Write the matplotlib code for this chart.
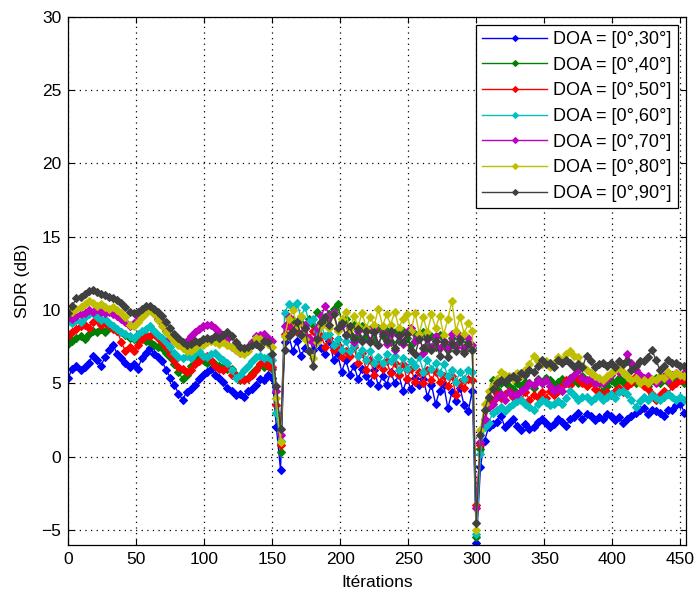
import numpy as np
import matplotlib.pyplot as plt

plt.rcParams['font.family'] = ['Liberation Sans', 'DejaVu Sans']

# SDR per iteration, sampled every 3 iterations (0 .. 453)
iterations = np.arange(0, 454, 3)

sdr_30 = [5.4, 6.0, 6.2, 5.9, 6.1, 6.4, 6.9, 6.6, 6.2, 6.8,
          7.3, 7.6, 7.0, 6.7, 6.4, 6.1, 6.3, 6.0, 6.7, 7.1,
          7.4, 7.0, 6.8, 6.5, 5.9, 5.4, 4.9, 4.3, 3.9, 4.4,
          4.6, 4.9, 5.3, 5.6, 5.8, 6.0, 5.6, 5.4, 5.1, 4.7,
          4.5, 4.2, 4.3, 4.1, 4.5, 4.6, 4.9, 5.3, 5.2, 5.6,
          5.4,
          2.0, -0.9,
          7.8, 8.3, 7.2, 7.9, 6.9, 7.4, 8.1, 7.3, 8.0, 7.4,
          7.0, 7.9, 6.6, 7.0, 5.8, 6.6, 5.6, 6.2, 5.3, 6.0,
          5.5, 5.0, 5.9, 4.8, 5.5, 4.9, 5.8, 5.0, 5.6, 4.5,
          5.3, 4.6, 5.4, 4.9, 5.3, 4.1, 4.9, 3.6, 4.5, 4.9,
          3.3, 4.4, 3.8, 4.7, 3.5, 3.1, 4.5,
          -5.9,
          -0.7, 1.1, 2.0, 2.2, 2.4, 2.8, 2.0, 2.3, 2.6, 2.1,
          1.8, 2.2, 1.9, 2.0, 2.4, 2.6, 2.3, 2.0, 2.2, 2.6,
          2.4, 2.1, 2.6, 2.7, 3.0, 2.6, 2.9, 2.8, 2.5, 2.7,
          2.6, 2.9, 2.8, 2.5, 2.7, 2.3, 2.6, 2.8, 3.0, 3.2,
          3.3, 2.9, 3.2, 3.1, 3.0, 2.8, 3.2, 3.2, 3.5, 3.6,
          3.0]

sdr_40 = [7.7, 7.9, 8.1, 8.2, 8.0, 8.4, 8.6, 8.5, 8.7, 8.5,
          8.8, 8.9, 8.6, 8.5, 8.3, 8.1, 8.0, 7.9, 8.0, 7.9,
          7.8, 7.6, 7.5, 7.4, 7.1, 6.8, 6.3, 5.8, 5.3, 5.6,
          6.2, 6.5, 6.8, 6.6, 6.4, 6.5, 6.3, 6.2, 6.1, 6.0,
          6.0, 5.6, 5.2, 5.3, 5.4, 5.7, 6.0, 6.3, 6.1, 6.3,
          6.0,
          3.0, 0.3,
          8.2, 8.9, 9.3, 8.5, 9.1, 8.8, 9.4, 9.0, 9.9, 9.1,
          9.4, 9.7, 10.1, 10.4, 9.2, 9.4, 8.4, 9.0, 8.2, 8.9,
          8.1, 8.7, 7.9, 8.8, 8.2, 8.6, 7.8, 8.5, 7.9, 8.6,
          8.1, 7.6, 8.4, 8.1, 8.5, 7.4, 8.2, 7.5, 8.3, 7.6,
          7.3, 8.1, 7.6, 7.9, 7.2, 7.8, 7.3,
          -5.5,
          0.5, 2.5, 4.0, 5.2, 4.6, 5.0, 5.3, 4.8, 4.6, 5.0,
          4.8, 5.1, 5.0, 4.7, 5.3, 5.0, 5.4, 5.2, 4.9, 5.1,
          5.3, 5.0, 5.4, 5.2, 5.0, 5.5, 5.1, 5.3, 5.0, 5.0,
          4.5, 4.8, 5.2, 5.0, 5.4, 5.1, 5.5, 5.2, 5.0, 5.3,
          5.1, 4.8, 5.2, 5.4, 5.0, 5.3, 5.1, 5.5, 5.2, 5.4,
          5.0]

sdr_50 = [8.2, 8.5, 8.7, 8.9, 9.0, 8.8, 9.2, 9.3, 9.0, 9.1,
          9.0, 8.7, 8.6, 7.8, 7.2, 7.5, 7.2, 7.6, 8.0, 8.3,
          8.2, 8.4, 8.1, 7.8, 7.5, 7.0, 6.5, 6.1, 6.0, 5.8,
          5.9, 6.3, 6.5, 6.8, 6.9, 6.6, 6.2, 6.0, 5.9, 6.1,
          5.6, 5.5, 5.3, 5.2, 5.4, 5.6, 5.9, 6.3, 6.6, 6.2,
          6.1,
          3.5, 0.8,
          8.4, 8.9, 8.5, 9.0, 8.4, 8.8, 8.1, 8.6, 7.9, 8.2,
          7.5, 8.1, 7.3, 7.6, 6.8, 7.2, 6.9, 7.5, 6.4, 7.1,
          5.9, 6.6, 5.6, 6.3, 6.0, 6.5, 5.7, 6.4, 5.6, 6.3,
          5.3, 6.0, 5.1, 5.8, 5.0, 5.9, 5.2, 5.8, 5.1, 5.5,
          4.8, 5.5, 4.2, 5.1, 4.7, 5.3, 5.2,
          -3.3,
          0.8, 2.3, 3.4, 3.8, 4.3, 4.0, 4.3, 4.5, 4.1, 4.3,
          3.9, 4.4, 3.9, 4.2, 4.1, 4.4, 4.0, 4.5, 4.2, 4.5,
          4.8, 5.2, 4.9, 5.5, 5.3, 5.0, 4.8, 5.1, 4.6, 4.4,
          4.1, 4.4, 4.2, 4.5, 4.7, 4.4, 4.8, 5.0, 5.5, 5.1,
          4.8, 4.6, 4.3, 3.9, 4.2, 4.5, 4.3, 4.8, 5.0, 5.2,
          5.2]

sdr_60 = [9.3, 9.1, 9.3, 9.2, 9.5, 9.7, 9.8, 9.5, 9.3, 9.4,
          9.1, 8.9, 8.7, 8.5, 8.4, 8.2, 8.1, 8.4, 8.6, 8.7,
          8.9, 8.6, 8.3, 8.1, 7.8, 7.5, 7.1, 6.8, 6.7, 6.9,
          6.7, 7.1, 7.2, 6.9, 6.8, 7.0, 7.1, 6.8, 6.6, 6.4,
          5.9, 5.4, 5.6, 5.9, 6.2, 6.5, 6.8, 6.9, 6.7, 6.8,
          6.6,
          3.0, 1.1,
          9.8, 10.4, 10.2, 10.5, 9.5, 10.2, 9.2, 9.4, 8.6, 8.9,
          8.2, 8.4, 7.6, 8.0, 7.3, 7.9, 7.2, 7.6, 6.9, 7.3,
          6.6, 7.2, 6.4, 6.8, 6.4, 7.0, 6.5, 6.9, 5.9, 6.7,
          6.0, 6.5, 6.2, 6.8, 5.8, 6.6, 6.0, 6.4, 5.7, 6.3,
          5.5, 5.9, 5.1, 5.8, 5.3, 5.9, 5.8,
          -5.3,
          0.2, 2.0, 2.3, 3.0, 3.2, 3.4, 3.1, 3.4, 3.6, 3.8,
          3.9, 3.6, 3.4, 3.2, 3.6, 3.9, 3.7, 3.5, 3.6, 3.8,
          3.6, 4.0, 4.5, 4.2, 3.9, 4.1, 4.1, 3.8, 4.0, 4.2,
          3.9, 4.1, 4.3, 4.0, 4.4, 4.5, 4.3, 3.9, 3.4, 3.8,
          4.1, 3.9, 4.2, 4.0, 3.9, 4.1, 4.3, 4.1, 3.9, 4.1,
          3.9]

sdr_70 = [9.5, 9.4, 9.6, 9.7, 9.8, 10.0, 9.9, 10.1, 9.9, 9.8,
          9.9, 9.7, 9.6, 9.4, 9.2, 8.9, 9.1, 9.5, 9.8, 10.0,
          10.2, 9.8, 9.4, 9.1, 8.6, 8.1, 7.9, 7.7, 7.5, 7.9,
          8.2, 8.5, 8.7, 8.9, 9.0, 9.0, 8.8, 8.5, 8.3, 8.0,
          7.5, 7.3, 7.1, 7.3, 7.5, 7.8, 8.2, 8.3, 8.4, 8.1,
          7.9,
          4.5, 1.5,
          8.9, 9.5, 8.7, 9.2, 8.4, 9.0, 8.0, 7.8, 8.8, 9.6,
          10.3, 9.5, 9.9, 8.7, 9.0, 8.3, 8.8, 7.8, 8.6, 7.9,
          8.7, 7.9, 8.8, 7.6, 8.5, 7.7, 8.4, 7.3, 8.2, 7.7,
          8.5, 8.8, 7.9, 8.3, 7.1, 8.0, 7.5, 8.2, 7.4, 7.9,
          7.4, 8.4, 7.5, 8.2, 7.4, 8.1, 7.6,
          -3.5,
          1.0, 2.6, 3.4, 3.6, 4.1, 4.3, 3.9, 4.4, 4.2, 4.3,
          4.5, 4.7, 5.0, 4.9, 5.2, 5.0, 5.2, 4.8, 4.5, 4.7,
          4.5, 5.0, 5.3, 5.6, 5.9, 5.4, 5.2, 5.4, 5.0, 5.1,
          5.0, 5.3, 5.6, 6.1, 5.8, 6.3, 7.0, 6.4, 5.9, 5.6,
          5.4, 5.5, 5.2, 5.0, 5.3, 5.5, 5.2, 5.6, 5.7, 5.5,
          5.7]

sdr_80 = [9.8, 9.9, 10.1, 10.2, 10.4, 10.6, 10.5, 10.3, 10.4, 10.2,
          10.1, 10.2, 10.0, 9.8, 9.5, 9.0, 8.9, 9.2, 9.5, 9.8,
          10.0, 9.7, 9.3, 8.9, 8.5, 8.2, 7.9, 7.6, 7.4, 7.2,
          7.2, 7.4, 7.7, 7.6, 7.8, 7.9, 7.8, 7.7, 7.8, 7.6,
          7.5, 7.3, 7.1, 7.0, 7.2, 7.6, 8.1, 8.0, 7.8, 7.7,
          7.5,
          4.0, 1.0,
          8.2, 9.4, 10.0, 9.0, 9.6, 8.0, 7.2, 6.7, 7.8, 8.9,
          9.5, 8.8, 9.7, 8.6, 9.4, 9.9, 8.7, 9.6, 8.9, 9.8,
          8.8, 9.5, 9.0, 10.1, 8.9, 9.7, 9.0, 9.9, 8.8, 9.4,
          9.7, 8.6, 9.8, 8.4, 9.5, 8.5, 9.7, 8.8, 9.6, 8.3,
          9.4, 10.6, 8.6, 9.5, 8.4, 9.1, 8.6,
          -5.0,
          1.8, 3.6, 4.5, 4.9, 5.3, 5.8, 5.6, 5.5, 5.3, 5.7,
          5.5, 5.9, 6.3, 6.9, 6.5, 6.3, 6.5, 6.1, 6.4, 6.8,
          6.6, 7.0, 7.2, 6.9, 6.8, 6.2, 5.9, 5.7, 5.5, 5.4,
          5.2, 5.5, 5.7, 5.9, 6.1, 5.8, 5.5, 5.2, 5.4, 5.0,
          5.2, 5.0, 5.3, 5.2, 5.5, 5.4, 5.8, 5.5, 5.7, 5.6,
          5.5]

sdr_90 = [9.8, 10.3, 10.8, 10.9, 11.1, 11.3, 11.4, 11.2, 11.1, 11.0,
          10.9, 10.8, 10.7, 10.5, 10.2, 9.9, 9.8, 9.9, 10.1, 10.3,
          10.3, 10.1, 9.9, 9.6, 9.2, 8.8, 8.4, 8.1, 7.8, 7.6,
          7.7, 7.9, 7.8, 8.0, 8.1, 8.0, 8.2, 8.1, 8.3, 8.5,
          8.2, 7.8, 7.5, 7.4, 7.5, 7.6, 7.7, 7.5, 7.9, 7.8,
          7.0,
          4.8, 1.9,
          7.3, 8.2, 8.6, 9.2, 8.3, 8.8, 7.2, 6.2, 8.0, 9.2,
          9.5, 9.0, 9.7, 8.8, 9.1, 8.3, 8.9, 8.0, 8.7, 7.9,
          8.6, 7.8, 8.5, 7.6, 8.4, 7.9, 8.6, 7.4, 8.3, 7.8,
          8.4, 7.3, 7.0, 8.0, 7.4, 8.1, 7.3, 7.9, 6.9, 7.8,
          6.8, 7.7, 7.2, 8.0, 7.1, 7.7, 7.3,
          -4.5,
          1.5, 3.2, 4.1, 4.6, 5.0, 5.2, 5.1, 5.4, 5.5, 5.3,
          5.7, 5.6, 5.9, 5.8, 6.2, 6.6, 6.3, 6.4, 6.1, 6.6,
          6.4, 6.6, 6.4, 6.1, 6.3, 6.1, 6.9, 6.5, 6.1, 6.3,
          6.4, 6.2, 6.4, 6.1, 6.5, 6.3, 6.5, 5.9, 6.2, 6.5,
          6.5, 6.8, 7.3, 6.6, 5.9, 6.2, 6.6, 6.4, 6.4, 6.2,
          6.2]

series = [sdr_30, sdr_40, sdr_50, sdr_60, sdr_70, sdr_80, sdr_90]
labels = ['DOA = [0°,30°]', 'DOA = [0°,40°]', 'DOA = [0°,50°]',
          'DOA = [0°,60°]', 'DOA = [0°,70°]', 'DOA = [0°,80°]',
          'DOA = [0°,90°]']
colors = ['#0000ff', '#008000', '#ff0000', '#00bfbf', '#bf00bf',
          '#bfbf00', '#404040']

fig = plt.figure(figsize=(6.97, 5.96), dpi=100)
ax = fig.add_axes([0.098, 0.086, 0.886, 0.886])

for vals, lab, col in zip(series, labels, colors):
    ax.plot(iterations, vals, '-D', color=col, label=lab,
            markersize=4.3, linewidth=1.0, markeredgewidth=0.8)

ax.set_xlim(0, 454)
ax.set_ylim(-6, 30)
ax.set_xticks(np.arange(0, 451, 50))
ax.set_yticks(np.arange(-5, 31, 5))
ax.grid(True, linestyle=(0, (1, 3.5)), color='black', linewidth=0.9)
ax.tick_params(direction='in', length=4, labelsize=12.5, pad=5,
               top=True, right=True, labeltop=False, labelright=False)
for sp in ax.spines.values():
    sp.set_linewidth(0.9)

ax.set_xlabel('Itérations', fontsize=12.5, labelpad=6)
ax.set_ylabel('SDR (dB)', fontsize=12.5, labelpad=8)

leg = ax.legend(loc='upper right', fontsize=13, fancybox=False,
                edgecolor='black', framealpha=1, borderaxespad=0.45,
                handlelength=3.6, labelspacing=0.48, borderpad=0.35,
                handletextpad=0.3)
leg.get_frame().set_linewidth(0.9)
for h in leg.get_lines():
    h.set_markersize(3)

fig.savefig('out.png', dpi=100)
